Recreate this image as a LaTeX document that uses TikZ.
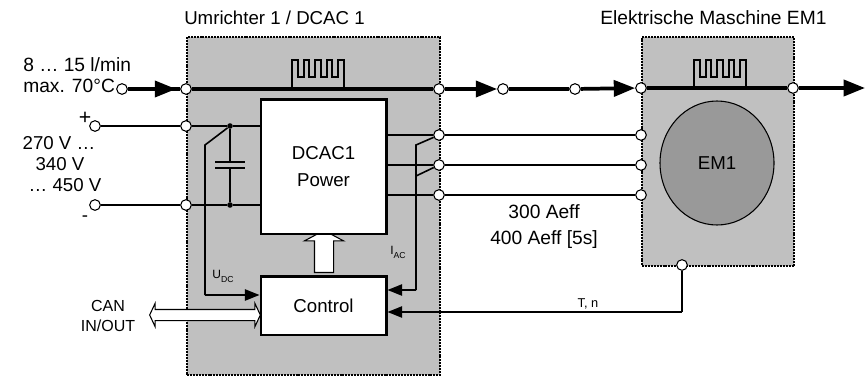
\documentclass[tikz,border=0pt]{standalone}
\usepackage{fontspec}
\setmainfont{Liberation Sans}
\usetikzlibrary{shapes, arrows.meta, positioning, calc}
\definecolor{housegray}{RGB}{192, 192, 192}
\definecolor{motorgray}{RGB}{153, 153, 153}
\newcommand{\lowidx}[1]{\raisebox{-3pt}{\fontsize{6.5}{7}\selectfont #1}}
\begin{document}
\begin{tikzpicture}[
  x=0.75pt, y=-0.75pt,
  font=\fontsize{14}{16}\selectfont,
  housing/.style={rectangle, draw, dash pattern=on 1.5pt off 0.7pt, line width=1.5pt, fill=housegray, anchor=north west, inner sep=0pt},
  block/.style={rectangle, draw, line width=2pt, fill=white, anchor=north west, inner sep=0pt, align=center},
  port/.style={circle, draw, line width=0.8pt, fill=white, minimum size=8pt, inner sep=0pt},
  junction/.style={circle, fill=black, minimum size=4.2pt, inner sep=0pt},
  label/.style={inner sep=0pt, align=center},
  coolant/.style={line width=2.8pt},
  coolarr/.style={coolant, -{Triangle[length=16pt, width=12pt]}},
  wire/.style={line width=1.9pt},
  sense/.style={line width=1.2pt},
  sensearr/.style={sense, -{Triangle[length=11pt, width=8.5pt]}},
  meander/.pic={
    \draw[line width=1.2pt] (0,0) -- (0,-28) -- (6,-28) -- (6,-11) -- (12,-11) -- (12,-28) -- (17,-28) -- (17,-11)
      -- (23,-11) -- (23,-28) -- (29,-28) -- (29,-11) -- (35,-11) -- (35,-28) -- (40,-28) -- (40,-11) -- (46,-11)
      -- (46,-28) -- (52,-28) -- (52,0);
  }
]
  \useasboundingbox (0,0) rectangle (866,375);
  \node[housing, minimum width=190pt, minimum height=253.5pt] (dcac) at (186,36) {};
  \node[housing, minimum width=114pt, minimum height=172pt] (emhouse) at (641,36) {};
  \node[single arrow, draw, line width=0.8pt, fill=white, rotate=90, inner sep=6.75pt,
        minimum height=31.5pt, single arrow head extend=7.5pt,
        single arrow tip angle=124, single arrow head indent=0pt] (pwm) at (324,254) {};
  \node[double arrow, draw, line width=0.8pt, fill=white, inner sep=3.75pt,
        minimum height=83pt, double arrow head extend=4.5pt,
        double arrow tip angle=130, double arrow head indent=0pt] (canbus) at (205,315) {};
  \node[block, minimum width=94pt, minimum height=101pt] (power) at (259.5,98) {DCAC1\\[4pt]Power};
  \node[block, minimum width=94pt, minimum height=44pt] (ctrl) at (259.5,275) {Control};
  \node[ellipse, draw, line width=0.8pt, fill=motorgray, minimum width=85.5pt, minimum height=93pt, inner sep=0pt] (motor) at (717,163) {EM1};
  \pic at (292,88) {meander};
  \pic at (694,88) {meander};

  \node[port] (coolin) at (122,89) {};
  \node[port] (coolA) at (186,89) {};
  \node[port] (coolB) at (439,89) {};
  \node[port] (coolC) at (503,89) {};
  \node[port] (coolD) at (575,89) {};
  \node[port] (coolE) at (641,88) {};
  \node[port] (coolF) at (793,88) {};
  \coordinate (coolout) at (865,88);
  \node[port] (plusin) at (95,126) {};
  \node[port] (plusA) at (186,126) {};
  \node[port] (minusin) at (95,205) {};
  \node[port] (minusA) at (186,205) {};
  \node[port] (phU) at (439,135) {};
  \node[port] (phV) at (439,165) {};
  \node[port] (phW) at (439,195) {};
  \node[port] (emU) at (641,135) {};
  \node[port] (emV) at (641,165) {};
  \node[port] (emW) at (641,195) {};
  \node[port] (sensor) at (682,265) {};
  \node[junction] (dcplus) at (230,126) {};
  \node[junction] (dcminus) at (230,205) {};

  \coordinate (capT) at (230,162);
  \coordinate (capB) at (230,168);
  \coordinate (udcA) at (205,145);
  \coordinate (udcB) at (205,295);
  \coordinate (iacA) at (416,145);
  \coordinate (iacB) at (416,176);
  \coordinate (iacC) at (416,290);
  \coordinate (tnA) at (682,312);

  \draw[coolant] (coolin) -- (coolA);
  \draw[coolarr, shorten >=3pt] (coolin) -- (coolA);
  \draw[coolant] (coolA) -- (coolB);
  \draw[coolarr] (coolB) -- (coolC);
  \draw[coolant] (coolC) -- (coolD);
  \draw[coolarr] (coolD) -- (coolE);
  \draw[coolant] (coolE) -- (coolF);
  \draw[coolarr] (coolF) -- (coolout);

  \draw[wire] (plusin) -- (plusA);
  \draw[wire] (plusA) -- (dcplus);
  \draw[wire] (dcplus) -- (power.west |- dcplus);
  \draw[wire] (minusin) -- (minusA);
  \draw[wire] (minusA) -- (dcminus);
  \draw[wire] (dcminus) -- (power.west |- dcminus);
  \draw[wire] (dcplus) -- (capT);
  \draw[wire] (dcminus) -- (capB);
  \draw[wire] ($(capT)+(-15,0)$) -- ($(capT)+(15,0)$);
  \draw[wire] ($(capB)+(-15,0)$) -- ($(capB)+(15,0)$);

  \draw[wire] (power.east |- phU) -- (phU);
  \draw[wire] (power.east |- phV) -- (phV);
  \draw[wire] (power.east |- phW) -- (phW);
  \draw[wire] (phU) -- (emU);
  \draw[wire] (phV) -- (emV);
  \draw[wire] (phW) -- (emW);

  \draw[sense] (dcplus) -- (udcA) -- (udcB);
  \draw[sensearr] (udcB) -- (ctrl.west |- udcB);
  \draw[sense] (phU) -- (iacA) -- (iacC);
  \draw[sense] (phV) -- (iacB);
  \draw[sensearr] (iacC) -- (ctrl.east |- iacC);
  \draw[sense] (sensor) -- (tnA);
  \draw[sensearr] (tnA) -- (ctrl.east |- tnA);

  \node[label, anchor=west] (title1) at (184,18) {Umrichter 1 / DCAC 1};
  \node[label, anchor=west, font=\fontsize{14.4}{16}\selectfont] (title2) at (600,18) {Elektrische Maschine EM1};
  \node[label, anchor=west, align=left, font=\fontsize{14.4}{16}\selectfont] (flow) at (23,75) {8 … 15 l/min\\max. 70°C};
  \node[label, font=\fontsize{16}{16}\selectfont] (plus) at (85,118) {+};
  \node[label] (voltA) at (59,143) {270 V …};
  \node[label] (voltB) at (60,164) {340 V};
  \node[label] (voltC) at (65,185) {… 450 V};
  \node[label] (minus) at (85,219) {-};
  \node[label, font=\fontsize{14.4}{16}\selectfont] (amps) at (544,227) {300 Aeff\\[3.5pt]400 Aeff [5s]};
  \node[label, font=\fontsize{12}{15.5}\selectfont] (can) at (108,316) {CAN\\IN/OUT};
  \node[label, font=\fontsize{9}{10}\selectfont] (udc) at (223,276) {U\lowidx{DC}};
  \node[label, font=\fontsize{9}{10}\selectfont] (iac) at (398,252) {I\lowidx{AC}};
  \node[label, font=\fontsize{9.6}{10}\selectfont] (tn) at (588,304) {T, n};
\end{tikzpicture}
\end{document}
